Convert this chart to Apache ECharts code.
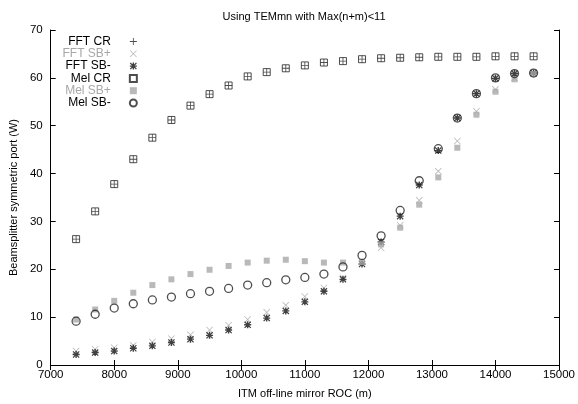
<!DOCTYPE html>
<html>
<head>
<meta charset="utf-8">
<script src="https://cdn.jsdelivr.net/npm/echarts@6/dist/echarts.min.js"></script>
<style>
  html, body { margin: 0; padding: 0; background: #fff; }
  #chart { width: 578px; height: 404px; }
</style>
</head>
<body>
<div id="chart"></div>
<script>
// ITM off-line mirror ROC (m)
const roc = [7400, 7700, 8000, 8300, 8600, 8900, 9200, 9500, 9800, 10100, 10400, 10700, 11000,
  11300, 11600, 11900, 12200, 12500, 12800, 13100, 13400, 13700, 14000, 14300, 14600]

// power at beamsplitter symmetric port (W)
const fftCR = [26.3, 32.1, 37.8, 43.0, 47.5, 51.2, 54.2, 56.6, 58.4, 60.3, 61.2, 62.0, 62.6,
  63.2, 63.5, 63.9, 64.1, 64.2, 64.3, 64.4, 64.4, 64.4, 64.5, 64.5, 64.5]
const fftSBp = [2.9, 3.3, 3.6, 4.1, 4.8, 5.5, 6.3, 7.3, 8.3, 9.5, 11.0, 12.5, 14.3,
  16.1, 18.2, 21.6, 24.5, 29.2, 34.4, 40.5, 46.8, 53.0, 57.6, 60.0, 61.0]
const fftSBm = [2.2, 2.6, 2.9, 3.5, 4.0, 4.7, 5.4, 6.2, 7.3, 8.4, 9.8, 11.3, 13.2,
  15.4, 17.9, 21.1, 25.7, 31.1, 37.6, 44.8, 51.6, 56.7, 59.9, 60.9, 61.0]
const melCR = [26.3, 32.1, 37.8, 43.0, 47.5, 51.2, 54.2, 56.6, 58.4, 60.3, 61.2, 62.0, 62.6,
  63.2, 63.5, 63.9, 64.1, 64.2, 64.3, 64.4, 64.4, 64.4, 64.5, 64.5, 64.5]
const melSBp = [9.5, 11.6, 13.4, 15.1, 16.7, 17.9, 19.0, 19.9, 20.7, 21.4, 21.8, 22.0, 21.7,
  21.4, 21.4, 21.5, 25.2, 28.7, 33.5, 39.2, 45.4, 52.3, 57.1, 59.7, 60.8]
const melSBm = [9.15, 10.6, 11.9, 12.8, 13.6, 14.2, 14.9, 15.4, 16.0, 16.7, 17.2, 17.8, 18.3,
  19.0, 20.5, 22.9, 27.0, 32.3, 38.5, 45.2, 51.6, 56.7, 60.0, 60.9, 61.0]

const xTicks = [7000, 15000, 1000]
const yTicks = [0, 70, 10]

const FONT = 'Liberation Sans'
const GRAY = '#a8a8a8'

// gnuplot-ish point shapes
const PLUS = 'path://M4.4,0H5.6V10H4.4ZM0,4.4H10V5.6H0Z'
const CROSS = 'path://M0.8,0L5,4.2L9.2,0L10,0.8L5.8,5L10,9.2L9.2,10L5,5.8L0.8,10L0,9.2L4.2,5L0,0.8Z'
const STAR = 'path://M4,0H6V10H4ZM0,4H10V6H0ZM1.2,0L5,3.8L8.8,0L10,1.2L6.2,5L10,8.8L8.8,10L5,6.2L1.2,10L0,8.8L3.8,5L0,1.2Z'

function pts(arr) {
  return roc.map((x, i) => [x, arr[i]])
}

function makeSeries(name, arr, symbol, size, style) {
  return {
    name: name,
    type: 'scatter',
    data: pts(arr),
    symbol: symbol,
    symbolSize: size,
    itemStyle: style,
    emphasis: { disabled: true },
    animation: false
  }
}

const chart = echarts.init(document.getElementById('chart'))

const axisCommon = {
  type: 'value',
  axisLine: { show: true, lineStyle: { color: '#000', width: 1 } },
  axisTick: { show: true, inside: true, length: 5, lineStyle: { color: '#000' } },
  splitLine: { show: false },
  nameTextStyle: { fontFamily: FONT, fontSize: 11, color: '#000' },
  axisLabel: { fontFamily: FONT, fontSize: 11.5, color: '#000' }
}

chart.setOption({
  backgroundColor: '#fff',
  textStyle: { fontFamily: FONT },
  title: {
    text: 'Using TEMmn with Max(n+m)<11',
    left: 299,
    top: 6,
    textAlign: 'center',
    textStyle: { fontFamily: FONT, fontSize: 11, fontWeight: 'normal', color: '#000' }
  },
  grid: { left: 49, right: 17, top: 30, bottom: 35.5, containLabel: false },
  legend: {
    orient: 'vertical',
    align: 'right',
    left: 62.5,
    top: 35.5,
    padding: 0,
    itemWidth: 7,
    itemHeight: 7,
    itemGap: 0.3,
    selectedMode: false,
    textStyle: { fontFamily: FONT, fontSize: 12, fontWeight: 'normal', lineHeight: 10, padding: [0, 14, 0, 0] },
    data: [
      { name: 'FFT CR', textStyle: { color: '#000' } },
      { name: 'FFT SB+', textStyle: { color: GRAY } },
      { name: 'FFT SB-', textStyle: { color: '#000' } },
      { name: 'Mel CR', textStyle: { color: '#000' } },
      { name: 'Mel SB+', textStyle: { color: GRAY } },
      { name: 'Mel SB-', textStyle: { color: '#000' } }
    ]
  },
  xAxis: [
    Object.assign({}, axisCommon, {
      position: 'bottom',
      min: xTicks[0], max: xTicks[1], interval: xTicks[2],
      name: 'ITM off-line mirror ROC (m)',
      nameLocation: 'middle',
      nameGap: 23,
      axisLabel: { fontFamily: FONT, fontSize: 11.5, color: '#000', margin: 4, formatter: v => String(v) }
    }),
    Object.assign({}, axisCommon, {
      position: 'top',
      min: xTicks[0], max: xTicks[1], interval: xTicks[2],
      axisLabel: { show: false }
    })
  ],
  yAxis: [
    Object.assign({}, axisCommon, {
      position: 'left',
      min: yTicks[0], max: yTicks[1], interval: yTicks[2],
      name: 'Beamsplitter symmetric port (W)',
      nameLocation: 'middle',
      nameGap: 29,
      axisLabel: { fontFamily: FONT, fontSize: 11.5, color: '#000', margin: 8 }
    }),
    Object.assign({}, axisCommon, {
      position: 'right',
      min: yTicks[0], max: yTicks[1], interval: yTicks[2],
      axisLabel: { show: false }
    })
  ],
  series: [
    makeSeries('FFT CR', fftCR, PLUS, 7, { color: '#222' }),
    makeSeries('FFT SB+', fftSBp, CROSS, 7, { color: GRAY }),
    makeSeries('FFT SB-', fftSBm, STAR, 7, { color: '#111' }),
    makeSeries('Mel CR', melCR, 'rect', 7, { color: 'rgba(0,0,0,0)', borderColor: '#222', borderWidth: 1 }),
    makeSeries('Mel SB+', melSBp, 'rect', 6, { color: GRAY }),
    makeSeries('Mel SB-', melSBm, 'circle', 8, { color: 'rgba(0,0,0,0)', borderColor: '#222', borderWidth: 1.3 })
  ]
})
</script>
</body>
</html>
